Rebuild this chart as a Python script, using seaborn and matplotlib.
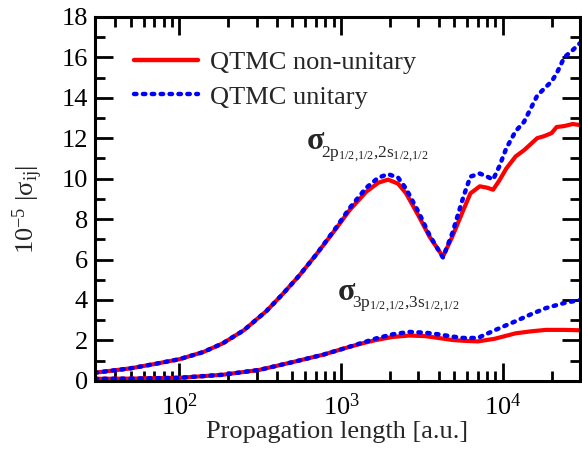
import matplotlib
matplotlib.use("Agg")
import matplotlib.pyplot as plt
import seaborn as sns
import pandas as pd
import numpy as np
from matplotlib.ticker import LogLocator, MultipleLocator, NullFormatter

# ---- data ----
x_2p = [30, 50, 70, 100, 140, 185, 250, 345, 436, 550, 702, 935, 1130, 1430, 1700, 1950,
        2250, 2520, 3030, 3520, 4260, 4870, 5700, 6300, 7200, 8000, 8700, 9500, 10500,
        12000, 13500, 16300, 18000, 20000, 21500, 24000, 27000, 30000]
nonunit_2p = [0.4, 0.62, 0.83, 1.07, 1.42, 1.85, 2.5, 3.45, 4.3, 5.2, 6.25, 7.55, 8.45, 9.35, 9.8, 9.95,
              9.75, 9.27, 8.12, 7.13, 6.14, 7.13, 8.45, 9.27, 9.62, 9.55, 9.45, 9.9, 10.5,
              11.1, 11.4, 12.0, 12.1, 12.25, 12.55, 12.6, 12.7, 12.65]
unit_2p = [0.4, 0.62, 0.83, 1.07, 1.42, 1.85, 2.5, 3.45, 4.3, 5.2, 6.25, 7.6, 8.55, 9.55, 10.05, 10.22,
           10.05, 9.5, 8.3, 7.2, 6.1, 7.3, 9.1, 10.1, 10.25, 10.1, 9.95, 10.6, 11.5,
           12.35, 12.8, 14.1, 14.45, 14.8, 15.2, 16.0, 16.35, 16.7]

x_3p = [30, 50, 100, 185, 312, 504, 780, 1020, 1300, 1650, 2080, 2630, 3320, 4000,
        4870, 5700, 7000, 8900, 12000, 15000, 18500, 24000, 30000]
nonunit_3p = [0.1, 0.11, 0.15, 0.3, 0.54, 0.93, 1.3, 1.58, 1.82, 2.02, 2.17, 2.24, 2.21, 2.12,
              2.02, 1.98, 1.95, 2.08, 2.35, 2.45, 2.52, 2.52, 2.5]
unit_3p = [0.1, 0.11, 0.15, 0.3, 0.54, 0.93, 1.3, 1.58, 1.84, 2.1, 2.3, 2.42, 2.38, 2.3,
           2.19, 2.12, 2.12, 2.5, 2.95, 3.3, 3.6, 3.85, 4.0]

legend_labels = ["QTMC non-unitary", "QTMC unitary"]
sigma_sym = "σ"
sub_2p = r'$\mathrm{2p}_{1/2{,}1/2}{,}\mathrm{2s}_{1/2{,}1/2}$'
sub_3p = r'$\mathrm{3p}_{1/2{,}1/2}{,}\mathrm{3s}_{1/2{,}1/2}$'

sns.set_theme(style="ticks")
plt.rcParams['font.family'] = ['Liberation Serif', 'DejaVu Serif']
plt.rcParams['mathtext.fontset'] = 'custom'
plt.rcParams['mathtext.rm'] = 'Liberation Serif'
plt.rcParams['mathtext.it'] = 'Liberation Serif:italic'
plt.rcParams['mathtext.bf'] = 'Liberation Serif:bold'

fig = plt.figure(figsize=(5.82, 4.55), dpi=100)
ax = fig.add_axes([0.163, 0.163, 0.8336, 0.800])

df_nu2 = pd.DataFrame({"x": x_2p, "y": nonunit_2p})
df_u2 = pd.DataFrame({"x": x_2p, "y": unit_2p})
df_nu3 = pd.DataFrame({"x": x_3p, "y": nonunit_3p})
df_u3 = pd.DataFrame({"x": x_3p, "y": unit_3p})

red = "#ff0000"
blue = "#0000ff"
sns.lineplot(data=df_nu2, x="x", y="y", ax=ax, color=red, lw=3.0, label=legend_labels[0])
sns.lineplot(data=df_nu3, x="x", y="y", ax=ax, color=red, lw=3.0)
sns.lineplot(data=df_u2, x="x", y="y", ax=ax, color=blue, lw=3.2, label=legend_labels[1])
sns.lineplot(data=df_u3, x="x", y="y", ax=ax, color=blue, lw=3.2)
for ln in ax.lines[2:4]:
    ln.set_dashes((0.55, 1.45))
    ln.set_dash_capstyle('round')

ax.set_xscale('log')
ax.set_xlim(30, 30000)
ax.set_ylim(0, 18)
ax.yaxis.set_major_locator(MultipleLocator(2))
ax.yaxis.set_minor_locator(MultipleLocator(1))
ax.xaxis.set_major_locator(LogLocator(base=10))
ax.xaxis.set_minor_locator(LogLocator(base=10, subs=np.arange(2, 10)))
ax.xaxis.set_minor_formatter(NullFormatter())

for s in ax.spines.values():
    s.set_linewidth(2.2)
    s.set_color('black')
ax.tick_params(which='both', direction='in', top=True, right=True, width=2.0, colors='black',
               labelsize=19)
ax.tick_params(which='major', length=13)
ax.tick_params(which='minor', length=7)
ax.tick_params(axis='x', which='major', pad=9)
ax.tick_params(axis='y', which='major', pad=5)

ax.set_xlabel("Propagation length [a.u.]", fontsize=19, labelpad=1)
ax.set_ylabel(r'10$^{-5}$ |σ$_{\rm ij}$|', fontsize=19, labelpad=12)
ax.yaxis.label.set_y(0.47)

# annotations: bold sigma + subscripts
for (xa, ya, sub) in [(611, 11.45, sub_2p), (951, 4.0, sub_3p)]:
    ax.text(xa, ya, sigma_sym, fontsize=23, fontweight='bold', ha='left', va='baseline')
    ax.annotate(sub, xy=(xa, ya), xytext=(10.5, -5.5), textcoords='offset points',
                fontsize=12.5, ha='left', va='baseline')

leg = ax.legend(loc='upper left', bbox_to_anchor=(0.058, 0.936), frameon=False, fontsize=19,
                handlelength=2.45, handletextpad=0.45, labelspacing=0.42, borderaxespad=0)
for h in leg.get_lines():
    h.set_linewidth(3.2)

fig.savefig("out.png", dpi=100)
